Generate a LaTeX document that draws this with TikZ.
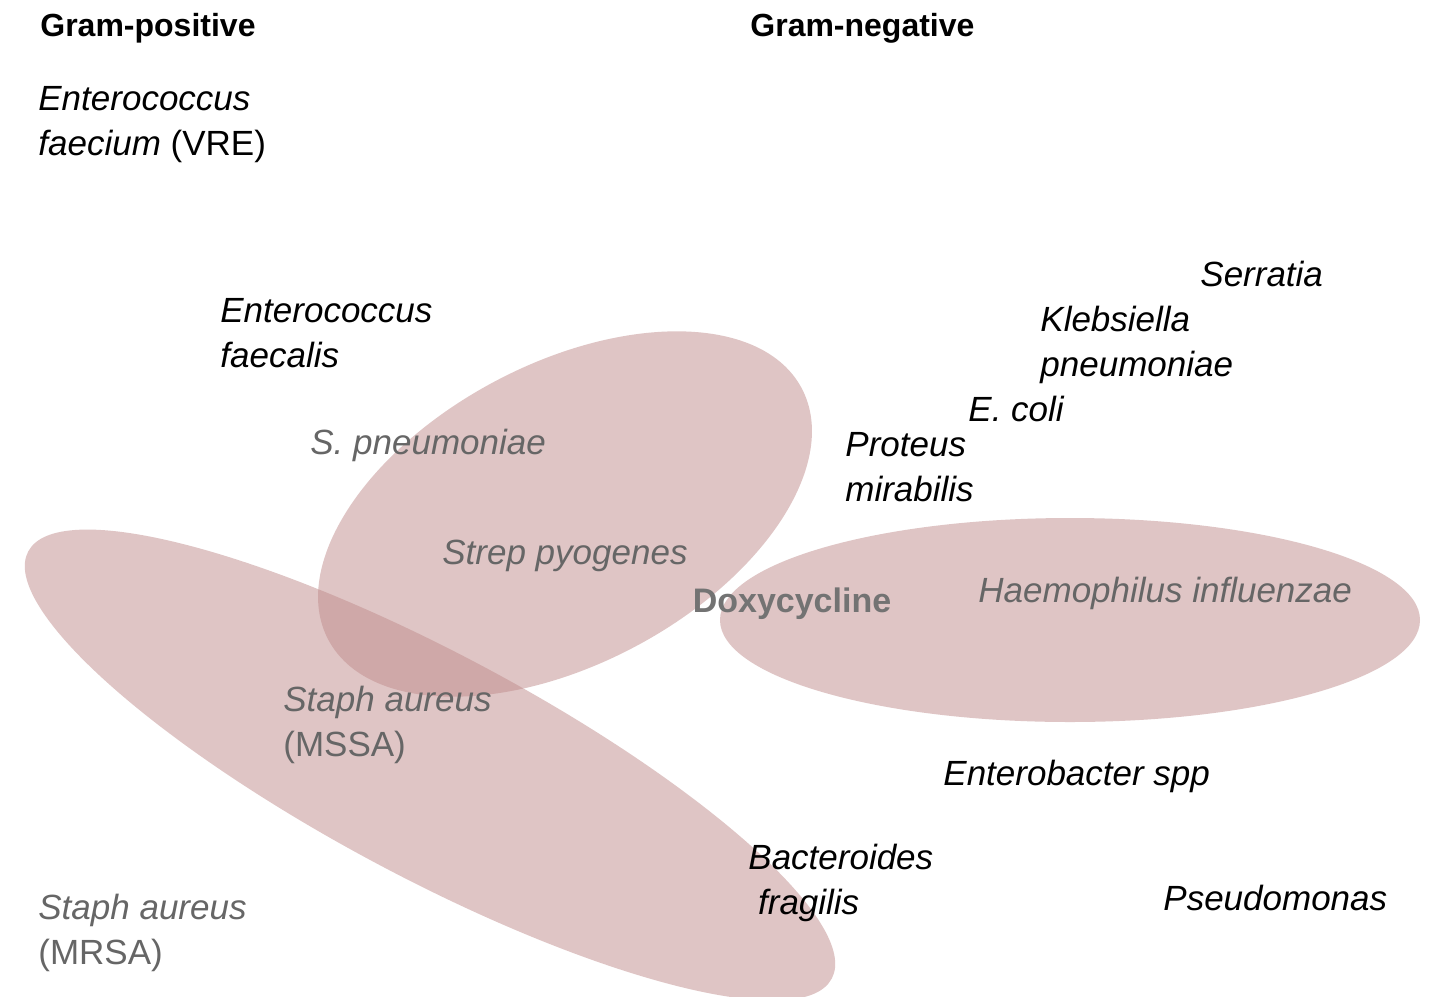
\documentclass[tikz,border=0pt]{standalone}
\usepackage{fontspec}
\setmainfont{Liberation Sans}
\begin{document}
\begin{tikzpicture}[x=0.5pt,y=-0.5pt,
  lbl/.style={anchor=west,align=left,font=\fontsize{17.5}{22.5}\selectfont\itshape,inner sep=0pt},
  ilbl/.style={lbl,text=black!60},
  hdr/.style={anchor=west,font=\fontsize{16}{18}\selectfont\bfseries,inner sep=0pt},
  blob/.style={fill=red!45!black!45!white,fill opacity=0.5}]
\useasboundingbox (0,0) rectangle (1440,996);
\fill[white] (0,0) rectangle (1440,996);
\fill[blob] (1070,620) ellipse [x radius=350, y radius=102];
\fill[blob,rotate around={28:(565,514)}] (565,514) ellipse [x radius=268, y radius=150];
\fill[blob,rotate around={-28:(430,765)}] (430,765) ellipse [x radius=455, y radius=112];
\node[hdr] (gp) at (40,28) {Gram-positive};
\node[hdr] (gn) at (750,28) {Gram-negative};
\node[lbl] (efm) at (38,125) {Enterococcus\\faecium \textup{(VRE)}};
\node[lbl] (efs) at (220,333) {Enterococcus\\faecalis};
\node[ilbl] (spn) at (310,445) {S. pneumoniae};
\node[ilbl] (spy) at (442,556) {Strep pyogenes};
\node[anchor=center,font=\fontsize{17}{18}\selectfont\bfseries,text=black!55,inner sep=0pt] (dox) at (792,604) {Doxycycline};
\node[ilbl] (mssa) at (283,725) {Staph aureus\\\textup{(MSSA)}};
\node[ilbl] (mrsa) at (38,933) {Staph aureus\\\textup{(MRSA)}};
\node[ilbl] (hi) at (978,593) {Haemophilus influenzae};
\node[lbl] (ser) at (1200,274) {Serratia};
\node[lbl] (kp) at (1040,345) {Klebsiella\\pneumoniae};
\node[lbl] (ec) at (968,409) {E. coli};
\node[lbl] (pm) at (845,467) {Proteus\\mirabilis};
\node[lbl] (ent) at (943,776) {Enterobacter spp};
\node[lbl] (bf) at (748,883) {Bacteroides\\\ fragilis};
\node[lbl] (ps) at (1163,898) {Pseudomonas};
\end{tikzpicture}
\end{document}
